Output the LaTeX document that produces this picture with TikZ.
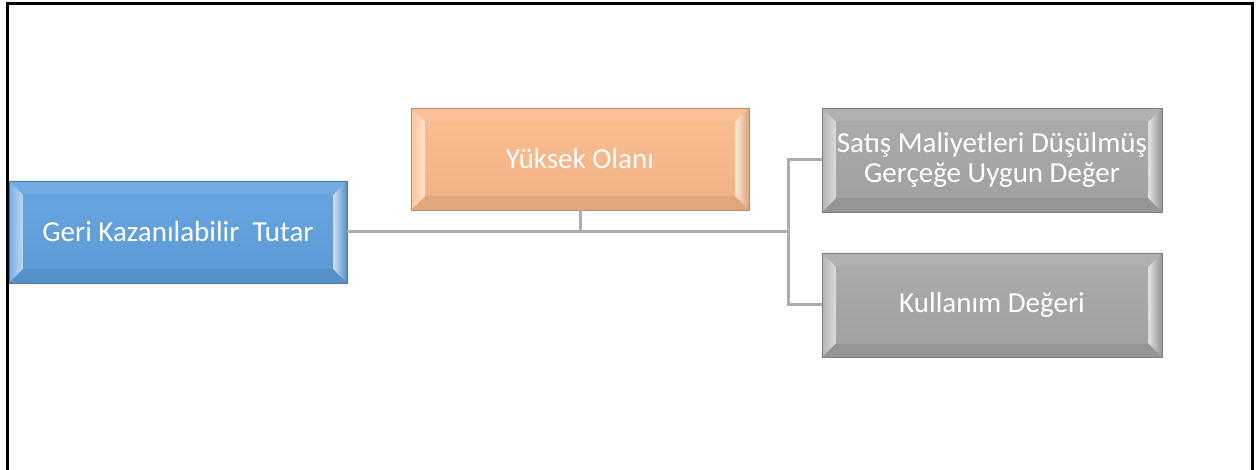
\documentclass[tikz,border=0pt]{standalone}
\usepackage{fontspec}
\setmainfont{Carlito}
\definecolor{bluebox}{HTML}{5FA0DE}
\definecolor{orangebox}{HTML}{F9B98A}
\definecolor{graybox}{HTML}{A6A6A6}
\definecolor{linegray}{HTML}{ADADAD}
\tikzset{
  bev/.style={rectangle, draw=#1!75!black, line width=0.8pt, fill=#1,
    text=white, align=center, inner sep=0pt,
    font=\fontsize{29}{30}\selectfont,
    path picture={
      \def\b{14pt}
      \coordinate (pNW) at (path picture bounding box.north west);
      \coordinate (pNE) at (path picture bounding box.north east);
      \coordinate (pSW) at (path picture bounding box.south west);
      \coordinate (pSE) at (path picture bounding box.south east);
      % top bevel
      \fill[#1!88!white] (pNW) -- (pNE) -- ([shift={(-\b,-\b)}]pNE) -- ([shift={(\b,-\b)}]pNW) -- cycle;
      % bottom bevel
      \fill[#1!90!black] (pSW) -- (pSE) -- ([shift={(-\b,\b)}]pSE) -- ([shift={(\b,\b)}]pSW) -- cycle;
      % left bevel
      \shade[left color=#1!85!white, right color=#1!40!white] (pNW) -- ([shift={(\b,-\b)}]pNW) -- ([shift={(\b,\b)}]pSW) -- (pSW) -- cycle;
      % right bevel
      \shade[left color=#1!30!white, right color=#1!88!black] (pNE) -- ([shift={(-\b,-\b)}]pNE) -- ([shift={(-\b,\b)}]pSE) -- (pSE) -- cycle;
      % inner face
      \shade[top color=#1!95!white, bottom color=#1!97!black] ([shift={(\b,-\b)}]pNW) rectangle ([shift={(-\b,\b)}]pSE);
    }},
  conn/.style={draw=linegray, line width=3pt},
  frame/.style={draw=black, line width=3pt}
}
\begin{document}
\begin{tikzpicture}[x=1pt,y=-1pt]
\useasboundingbox (0,0) rectangle (1258,470);
\draw[frame] (7,471) -- (7,4) -- (1252,4) -- (1252,471);

\node[bev=bluebox, minimum width=338pt, minimum height=102pt] (blue) at (178,232) {Geri Kazanılabilir~ Tutar};
\node[bev=orangebox, minimum width=338pt, minimum height=102pt] (orange) at (580,159) {Yüksek Olanı};
\node[bev=graybox, minimum width=340pt, minimum height=104pt] (g1) at (992,160) {Satış Maliyetleri Düşülmüş\\Gerçeğe Uygun Değer};
\node[bev=graybox, minimum width=340pt, minimum height=104pt] (g2) at (992,305) {Kullanım Değeri};

\coordinate (jx) at (788,232);
\draw[conn] (blue.east) -- (jx);
\draw[conn] (orange.south) -- (orange.south |- jx);
\draw[conn] (g1.west) -| (jx) |- (g2.west);
\end{tikzpicture}
\end{document}
